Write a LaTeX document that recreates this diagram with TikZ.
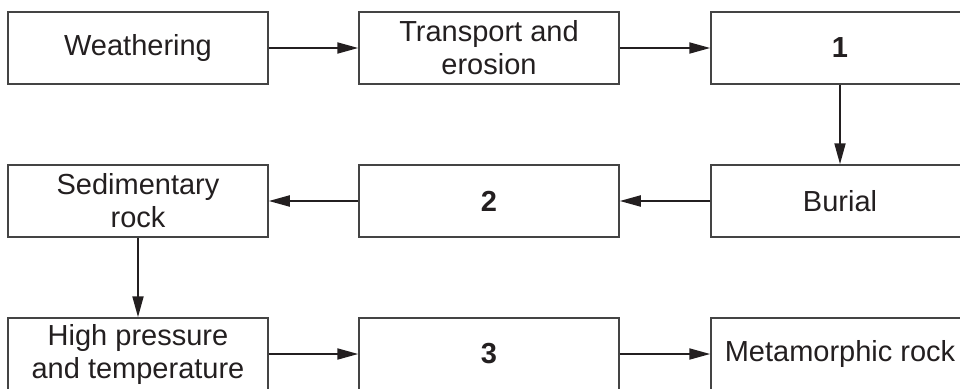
\documentclass[tikz,border=0pt]{standalone}
\usepackage{fontspec}
\setmainfont{Liberation Sans}
\usetikzlibrary{arrows.meta}
\definecolor{ink}{HTML}{231F20}
\definecolor{boxline}{HTML}{444444}
\tikzset{
  box/.style={draw=boxline, line width=1.5pt, rectangle, minimum width=260pt, minimum height=72pt,
    inner sep=0pt, align=center, text=ink, font=\fontsize{29}{33}\selectfont},
  conn/.style={draw=ink, line width=2pt, -{Triangle[length=21pt,width=11pt]}}
}
\begin{document}
\begin{tikzpicture}[x=1pt,y=-1pt]
\useasboundingbox (0,0) rectangle (960,388);
\clip (0,0) rectangle (960,388);
\node[box] (a) at (138,48) {Weathering};
\node[box] (b) at (489,48) {Transport and\\erosion};
\node[box, minimum width=258pt] (c) at (840,48) {\textbf{1}};
\node[box] (d) at (138,201) {Sedimentary\\rock};
\node[box] (e) at (489,201) {\textbf{2}};
\node[box, minimum width=258pt] (f) at (840,201) {Burial};
\node[box] (g) at (138,354) {High pressure\\and temperature};
\node[box] (h) at (489,354) {\textbf{3}};
\node[box, minimum width=258pt] (i) at (840,354) {Metamorphic rock};
\draw[conn] (a) -- (b);
\draw[conn] (b) -- (c);
\draw[conn] (c) -- (f);
\draw[conn] (f) -- (e);
\draw[conn] (e) -- (d);
\draw[conn] (d) -- (g);
\draw[conn] (g) -- (h);
\draw[conn] (h) -- (i);
\end{tikzpicture}
\end{document}
